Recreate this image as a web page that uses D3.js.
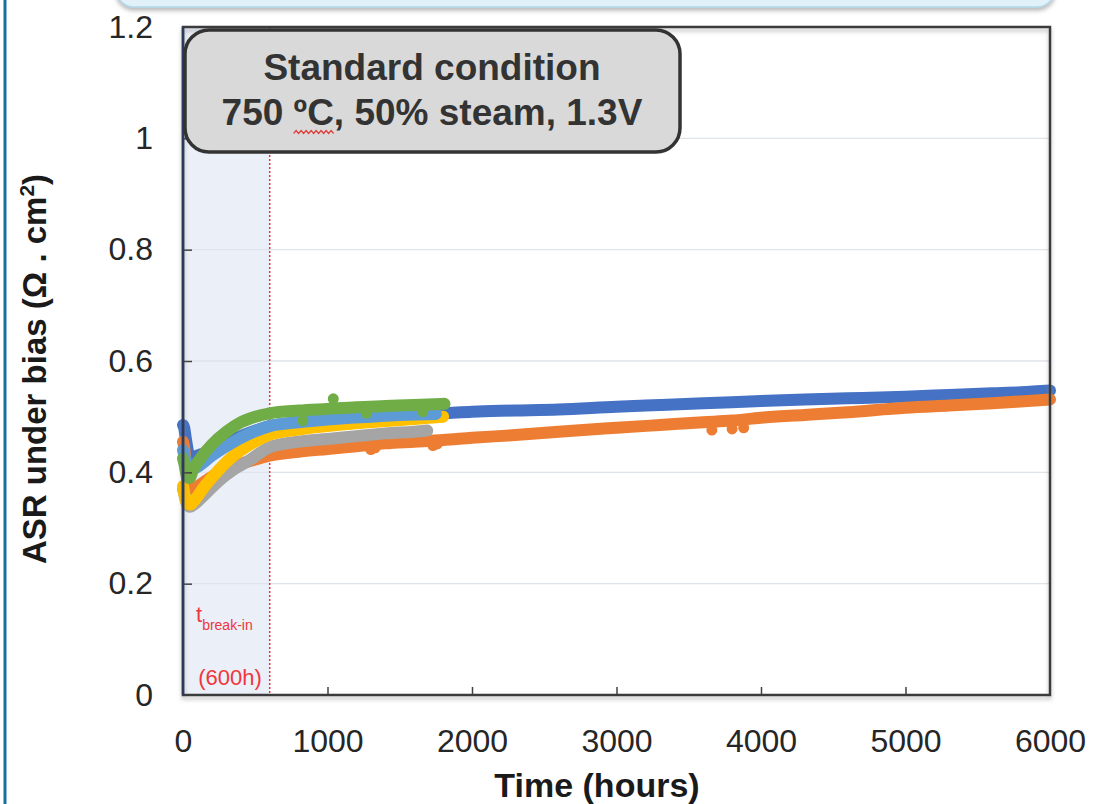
<!DOCTYPE html>
<html>
<head>
<meta charset="utf-8">
<script src="https://cdn.jsdelivr.net/npm/d3@7"></script>
<style>
  html, body { margin: 0; padding: 0; background: #ffffff; }
  svg { display: block; }
  text { font-family: "Liberation Sans", Arial, sans-serif; }
</style>
</head>
<body>
<svg id="chart" width="1096" height="804"></svg>
<script>
// ASR under bias vs. time, several cells at 750 °C / 50 % steam / 1.3 V

const xTicks = [0, 1000, 2000, 3000, 4000, 5000, 6000];
const yTicks = [0, 0.2, 0.4, 0.6, 0.8, 1, 1.2];
const yTickLabels = ["0", "0.2", "0.4", "0.6", "0.8", "1", "1.2"];
const breakInHours = 600;

// series, in drawing order (later ones are drawn on top)
const seriesNames = ["cellBlue", "cellOrange", "cellGray", "cellYellow", "cellLightBlue", "cellGreen"];
const seriesColors = ["#4472c4", "#ed7d31", "#a5a5a5", "#ffc000", "#5b9bd5", "#70ad47"];

const cellBlueT = [0, 8, 20, 40, 60, 100, 200, 300, 400, 500, 600, 800, 1000, 1300, 1600, 1800, 2000, 2300, 2600, 3000, 3300, 3600, 4000, 4300, 4600, 5000, 5300, 5600, 5800, 6000];
const cellBlueV = [0.485, 0.48, 0.46, 0.432, 0.426, 0.43, 0.44, 0.452, 0.465, 0.475, 0.483, 0.49, 0.496, 0.5, 0.504, 0.506, 0.509, 0.511, 0.513, 0.518, 0.521, 0.524, 0.528, 0.531, 0.533, 0.536, 0.539, 0.542, 0.544, 0.547];

const cellOrangeT = [0, 8, 20, 35, 60, 100, 200, 300, 400, 500, 600, 800, 1000, 1200, 1400, 1600, 1800, 2000, 2300, 2600, 3000, 3300, 3600, 3800, 4000, 4300, 4600, 5000, 5300, 5600, 6000];
const cellOrangeV = [0.455, 0.445, 0.41, 0.378, 0.37, 0.375, 0.392, 0.405, 0.415, 0.423, 0.43, 0.437, 0.442, 0.447, 0.452, 0.455, 0.458, 0.462, 0.467, 0.473, 0.48, 0.485, 0.49, 0.493, 0.498, 0.503, 0.508, 0.516, 0.52, 0.524, 0.531];
const cellOrangeSpikesT = [1300, 1330, 1730, 1760, 3660, 3800, 3880];
const cellOrangeSpikesV = [0.441, 0.444, 0.448, 0.451, 0.476, 0.478, 0.48];

const cellGrayT = [0, 10, 25, 50, 80, 150, 250, 350, 450, 600, 800, 1000, 1200, 1400, 1600, 1690];
const cellGrayV = [0.37, 0.36, 0.345, 0.338, 0.343, 0.36, 0.385, 0.405, 0.42, 0.445, 0.455, 0.46, 0.465, 0.47, 0.473, 0.475];

const cellYellowT = [0, 10, 25, 50, 80, 150, 250, 350, 450, 600, 800, 1000, 1200, 1400, 1600, 1800];
const cellYellowV = [0.375, 0.36, 0.345, 0.342, 0.35, 0.375, 0.405, 0.43, 0.448, 0.468, 0.477, 0.483, 0.488, 0.492, 0.496, 0.5];

const cellLightBlueT = [0, 10, 30, 60, 100, 200, 300, 400, 500, 600, 800, 1000, 1300, 1500, 1750];
const cellLightBlueV = [0.44, 0.43, 0.41, 0.405, 0.41, 0.43, 0.447, 0.462, 0.474, 0.483, 0.49, 0.495, 0.5, 0.503, 0.505];

const cellGreenT = [0, 10, 25, 45, 70, 120, 200, 300, 400, 500, 600, 800, 1000, 1200, 1400, 1600, 1810];
const cellGreenV = [0.425, 0.415, 0.395, 0.39, 0.405, 0.425, 0.45, 0.473, 0.49, 0.5, 0.506, 0.511, 0.514, 0.517, 0.519, 0.521, 0.523];
const cellGreenSpikesT = [830, 1040, 1270, 1660];
const cellGreenSpikesV = [0.493, 0.532, 0.506, 0.509];

const seriesT = [cellBlueT, cellOrangeT, cellGrayT, cellYellowT, cellLightBlueT, cellGreenT];
const seriesV = [cellBlueV, cellOrangeV, cellGrayV, cellYellowV, cellLightBlueV, cellGreenV];
const spikes = [
  { color: "#ed7d31", t: cellOrangeSpikesT, v: cellOrangeSpikesV, after: 1 },
  { color: "#70ad47", t: cellGreenSpikesT, v: cellGreenSpikesV, after: 5 }
];

const svg = d3.select("#chart");

const x = d3.scaleLinear().domain([0, 6000]).range([183, 1050]);
const y = d3.scaleLinear().domain([0, 1.2]).range([695, 27]);

const defs = svg.append("defs");
const sh = defs.append("filter").attr("id", "shadow").attr("x", "-10%").attr("y", "-50%").attr("width", "120%").attr("height", "200%");
sh.append("feDropShadow").attr("dx", 0).attr("dy", 3).attr("stdDeviation", 2).attr("flood-color", "#808080").attr("flood-opacity", 0.55);
const soft = defs.append("filter").attr("id", "soft");
soft.append("feGaussianBlur").attr("stdDeviation", 0.7);

// page decorations: side rule and the panel edge above the chart
svg.append("line").attr("x1", 5).attr("x2", 5).attr("y1", 0).attr("y2", 804)
  .attr("stroke", "#1b6f9f").attr("stroke-width", 3);
svg.append("rect").attr("x", 116).attr("y", -40).attr("width", 939).attr("height", 47).attr("rx", 18)
  .attr("fill", "#e1f1f9").attr("stroke", "#b3d9ea").attr("stroke-width", 1.5)
  .attr("filter", "url(#shadow)");

// break-in period shading
svg.append("rect")
  .attr("x", x(0)).attr("y", y(1.2))
  .attr("width", x(breakInHours) - x(0)).attr("height", y(0) - y(1.2))
  .attr("fill", "#eaeff8");

// horizontal grid
svg.append("g").selectAll("line").data(yTicks.filter(d => d > 0 && d < 1.2)).join("line")
  .attr("x1", x(0)).attr("x2", x(6000))
  .attr("y1", d => y(d)).attr("y2", d => y(d))
  .attr("stroke", "#dfe4ea").attr("stroke-width", 1.3);

// break-in marker
svg.append("line")
  .attr("x1", x(breakInHours)).attr("x2", x(breakInHours))
  .attr("y1", y(1.2)).attr("y2", y(0))
  .attr("stroke", "#e4343c").attr("stroke-width", 1.5).attr("stroke-dasharray", "2,2");

// data bands
const line = d3.line().x(d => x(d[0])).y(d => y(d[1])).curve(d3.curveMonotoneX);
const dataG = svg.append("g").attr("filter", "url(#soft)");
seriesNames.forEach((name, i) => {
  const pts = seriesT[i].map((t, k) => [t, seriesV[i][k]]);
  dataG.append("path").datum(pts)
    .attr("class", name)
    .attr("d", line)
    .attr("fill", "none")
    .attr("stroke", seriesColors[i])
    .attr("stroke-width", 12)
    .attr("stroke-linecap", "round")
    .attr("stroke-linejoin", "round");
  spikes.filter(s => s.after === i).forEach(s => {
    dataG.append("g").selectAll("circle").data(s.t.map((t, k) => [t, s.v[k]])).join("circle")
      .attr("cx", d => x(d[0])).attr("cy", d => y(d[1])).attr("r", 5.5)
      .attr("fill", s.color);
  });
});

// axes (inner ticks)
const xAxis = d3.axisBottom(x).tickValues(xTicks).tickSize(-8).tickPadding(34).tickFormat(d3.format("d"));
const gx = svg.append("g").attr("transform", `translate(0,${y(0)})`).call(xAxis);
const yAxis = d3.axisLeft(y).tickValues(yTicks).tickSize(-9).tickPadding(30)
  .tickFormat((d, i) => yTickLabels[i]);
const gy = svg.append("g").attr("transform", `translate(${x(0)},0)`).call(yAxis);
[gx, gy].forEach(g => {
  g.select(".domain").remove();
  g.selectAll(".tick line").attr("stroke", "#404040").attr("stroke-width", 1.5);
  g.selectAll(".tick text").attr("fill", "#262626").attr("font-size", 32)
    .attr("font-family", "'Liberation Sans', Arial, sans-serif");
});
gx.selectAll(".tick").filter(d => d === 0 || d === 6000).select("line").remove();
gy.selectAll(".tick").filter(d => d === 0 || d === 1.2).select("line").remove();

// plot frame
svg.append("rect")
  .attr("x", x(0)).attr("y", y(1.2))
  .attr("width", x(6000) - x(0)).attr("height", y(0) - y(1.2))
  .attr("fill", "none").attr("stroke", "#3a3a3a").attr("stroke-width", 2.5)
  .attr("filter", "url(#shadow)");
svg.append("line").attr("x1", x(0)).attr("x2", x(0)).attr("y1", y(1.2)).attr("y2", y(0))
  .attr("stroke", "#2c3a5c").attr("stroke-width", 2.5);

// axis titles
svg.append("text")
  .attr("x", 597).attr("y", 797)
  .attr("text-anchor", "middle")
  .attr("font-size", 34).attr("font-weight", "bold").attr("fill", "#1a1a1a")
  .text("Time (hours)");
const yt = svg.append("text")
  .attr("transform", "translate(46,369) rotate(-90)")
  .attr("text-anchor", "middle")
  .attr("font-size", 33).attr("font-weight", "bold").attr("fill", "#1a1a1a");
yt.append("tspan").text("ASR under bias (Ω . cm");
yt.append("tspan").attr("font-size", 21).attr("dy", -12).text("2");
yt.append("tspan").attr("dy", 12).text(")");

// break-in labels
const bl = svg.append("text").attr("x", 196).attr("y", 622)
  .attr("fill", "#f0363c").attr("font-family", "'Open Sans', sans-serif").attr("font-size", 22);
bl.append("tspan").text("t");
bl.append("tspan").attr("font-size", 14).attr("dy", 8).text("break-in");
svg.append("text").attr("x", 230).attr("y", 685).attr("text-anchor", "middle")
  .attr("fill", "#f0363c").attr("font-family", "'Open Sans', sans-serif").attr("font-size", 22)
  .text("(600h)");

// condition call-out
svg.append("rect")
  .attr("x", 185).attr("y", 30).attr("width", 495).attr("height", 122).attr("rx", 24)
  .attr("fill", "#d9d9d9").attr("stroke", "#333333").attr("stroke-width", 3.5);
svg.append("text").attr("x", 432).attr("y", 80).attr("text-anchor", "middle")
  .attr("font-size", 37).attr("font-weight", "bold").attr("fill", "#333333")
  .text("Standard condition");
const l2 = svg.append("text").attr("x", 432).attr("y", 125).attr("text-anchor", "middle")
  .attr("font-size", 37).attr("font-weight", "bold").attr("fill", "#333333")
  .text("750 ºC, 50% steam, 1.3V");

// spell-check squiggle under "ºC"
const node = l2.node();
const s0 = node.getStartPositionOfChar(4).x;
const s1 = node.getEndPositionOfChar(5).x;
const squiggle = [];
for (let px = s0, k = 0; px <= s1; px += 2.5, k++) squiggle.push([px, 132 + (k % 2 ? -1.5 : 1.5)]);
svg.append("path").attr("d", d3.line()(squiggle))
  .attr("fill", "none").attr("stroke", "#e0403c").attr("stroke-width", 1.2);
</script>
</body>
</html>
